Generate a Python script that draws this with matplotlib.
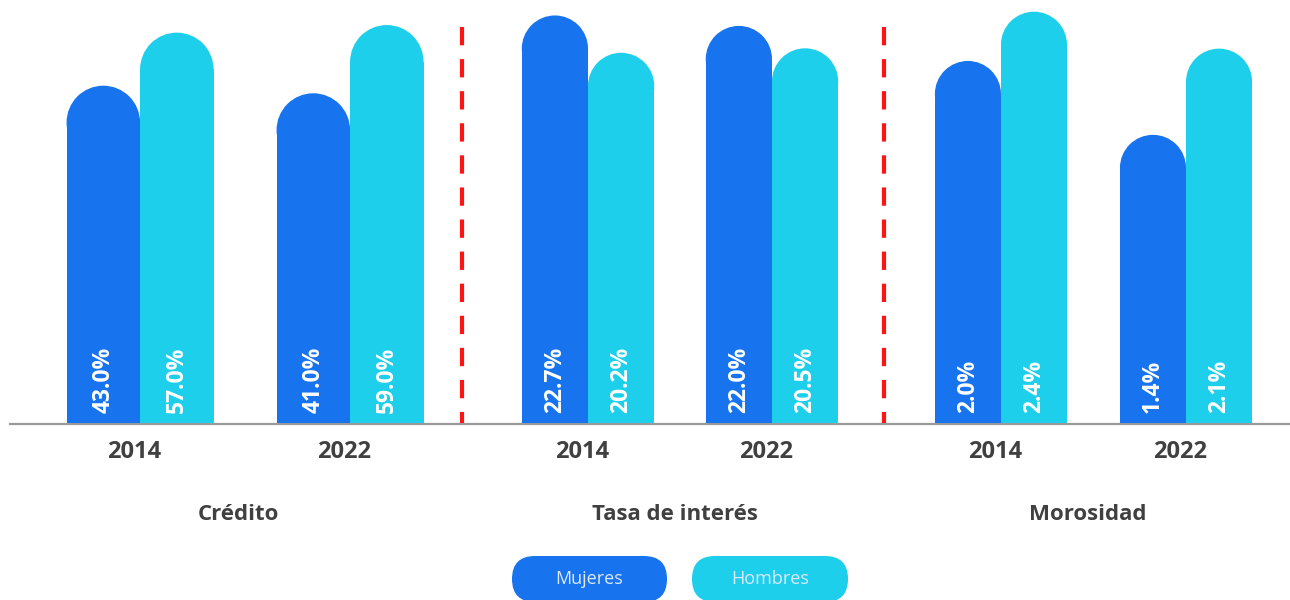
import matplotlib
matplotlib.use("Agg")
import matplotlib.pyplot as plt
from matplotlib.patches import Ellipse, FancyBboxPatch

# ---------------- data ----------------
groups = ["Crédito", "Tasa de interés", "Morosidad"]
years = ["2014", "2022"]
series = ["Mujeres", "Hombres"]
mujeres = [[43.0, 41.0], [22.7, 22.0], [2.0, 1.4]]
hombres = [[57.0, 59.0], [20.2, 20.5], [2.4, 2.1]]

# ---------------- style ----------------
plt.rcParams['font.family'] = ['Open Sans', 'DejaVu Sans']
colors = {"Mujeres": "#1873EE", "Hombres": "#1DCFEA"}
text_dark = "#404040"

W, H = 1290, 600
fig = plt.figure(figsize=(W / 100, H / 100), dpi=100)
fig.patch.set_facecolor("white")

ov = fig.add_axes([0, 0, 1, 1], zorder=0)
ov.set_xlim(0, W)
ov.set_ylim(H, 0)
ov.axis("off")

base_px, top_px = 423, 8
panel_px = [(0, 462), (462, 884), (884, 1290)]
ylims = [(-46.0, 63.5), (-4.6, 23.2), (-0.94, 2.43)]
xlims = [(-0.667, 1.533), (-0.685, 1.609), (-0.632, 1.562)]
widths = [0.35, 0.36, 0.357]

for gi, g in enumerate(groups):
    x0, x1 = panel_px[gi]
    ax = fig.add_axes([x0 / W, (H - base_px) / H, (x1 - x0) / W, (base_px - top_px) / H], zorder=1)
    ax.patch.set_alpha(0)
    lo, hi = ylims[gi]
    ax.set_xlim(*xlims[gi])
    ax.set_ylim(lo, hi)
    ax.axis("off")
    sx = (x1 - x0) / (xlims[gi][1] - xlims[gi][0])
    sy = (base_px - top_px) / (hi - lo)
    w = widths[gi]
    ry = (w / 2) * sx / sy
    for yi, yr in enumerate(years):
        for si, (s, vals) in enumerate(zip(series, [mujeres, hombres])):
            v = vals[gi][yi]
            xc = yi + (si - 0.5) * w
            c = colors[s]
            ax.bar(xc, (v - ry) - lo, bottom=lo, width=w, color=c, linewidth=0, zorder=2)
            ax.add_patch(Ellipse((xc, v - ry), w, 2 * ry, color=c, linewidth=0, zorder=2))
            ax.annotate(f"{v:.1f}%", xy=(xc, lo), xytext=(0, 7.5), textcoords="offset points",
                        rotation=90, ha="center", va="bottom", color="white",
                        fontsize=16.5, fontweight="bold", zorder=3)
        ax.annotate(yr, xy=(yi - 0.03, lo), xytext=(0, -21), textcoords="offset points",
                    ha="center", va="center", color=text_dark, fontsize=17, fontweight="bold",
                    annotation_clip=False)
    ax.annotate(g, xy=(0.47, lo), xytext=(0, -66), textcoords="offset points",
                ha="center", va="center", color=text_dark, fontsize=16, fontweight="bold",
                annotation_clip=False)

# baseline
ov.plot([10, W], [base_px + 1, base_px + 1], color="#9a9a9a", lw=1.6, zorder=0)

# separators
for xs in [462, 884]:
    ov.plot([xs, xs], [27, base_px], color="#ff1414", lw=3, ls=(0, (4.4, 3.3)), zorder=5)

# legend pills
pills = [(512, 667), (692, 848)]
for (px0, px1), s in zip(pills, series):
    ov.add_patch(FancyBboxPatch((px0, 556), px1 - px0, 46,
                                boxstyle="round,pad=0,rounding_size=23",
                                fc=colors[s], ec="none", zorder=2))
    ov.text((px0 + px1) / 2, 579, s, ha="center", va="center", color="#dbe9ff",
            fontsize=13, zorder=3)

fig.savefig("out.png", dpi=100)
